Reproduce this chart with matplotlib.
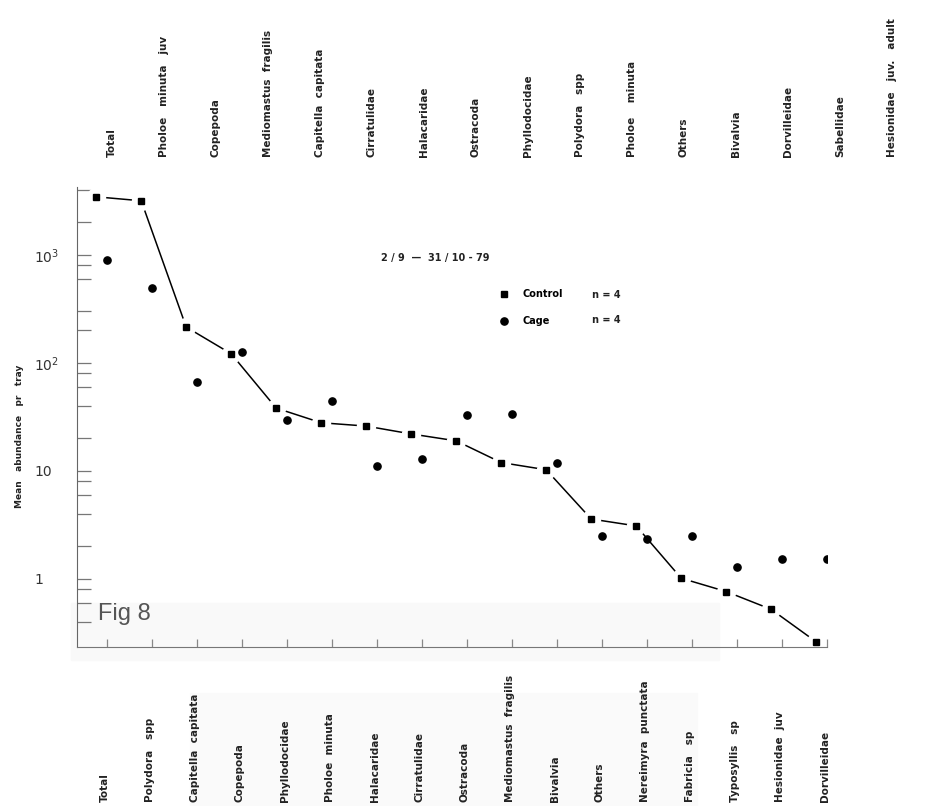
import matplotlib
matplotlib.use('Agg')
import matplotlib.pyplot as plt
import matplotlib.transforms as mtransforms
from matplotlib.lines import Line2D
from matplotlib.patches import Rectangle
import numpy as np

# taxa ranked by control abundance (bottom row)
control_taxa = ['Total', 'Polydora   spp', 'Capitella  capitata', 'Copepoda',
                'Phyllodocidae', 'Pholoe  minuta', 'Halacaridae', 'Cirratulidae',
                'Ostracoda', 'Mediomastus  fragilis', 'Bivalvia', 'Others',
                'Nereimyra  punctata', 'Fabricia   sp', 'Typosyllis   sp',
                'Hesionidae  juv', 'Dorvilleidae']
# taxa ranked by cage abundance (top row)
cage_taxa = ['Total', 'Pholoe   minuta   juv', 'Copepoda', 'Mediomastus  fragilis',
             'Capitella  capitata', 'Cirratulidae', 'Halacaridae', 'Ostracoda',
             'Phyllodocidae', 'Polydora   spp', 'Pholoe    minuta', 'Others',
             'Bivalvia', 'Dorvilleidae', 'Sabellidae', 'Hesionidae   juv.   adult']

control = [3440, 3160, 214, 121, 38, 27.8, 25.9, 21.9, 18.9, 11.9, 10.2,
           3.57, 3.08, 1.01, 0.76, 0.52, 0.26]
cage = [893, 489, 65.9, 126, 29.5, 44.2, 11.0, 12.8, 33.0, 33.5, 11.9,
        2.47, 2.33, 2.5, 1.28, 1.51, 1.51]

period = '2 / 9  \u2014  31 / 10 - 79'
series = ['Control', 'Cage']
n_trays = [4, 4]

fig = plt.figure(figsize=(9.41, 8.06), dpi=100)

# faint scan shading, behind everything
fig.patches.append(Rectangle((71/941, 1-660/806), 648/941, 57/806,
                             transform=fig.transFigure, color='#f9f9f9', zorder=-10))
fig.patches.append(Rectangle((190/941, 0), 507/941, 113/806,
                             transform=fig.transFigure, color='#fafafa', zorder=-10))

ax = fig.add_axes([77/941, 1-647/806, 750/941, 460/806])
ax.patch.set_alpha(0)

x = np.arange(len(control))
xc = x - 0.24

# line with small gaps round each square
ax.plot(xc, control, color='black', lw=1.1, zorder=2)
ax.plot(xc, control, ls='none', marker='o', ms=14, mfc='white', mec='none', zorder=2.1)
ax.plot(xc, control, ls='none', marker='s', ms=4.5, color='black', zorder=3)
ax.plot(x, cage, ls='none', marker='o', ms=5.2, color='black', zorder=3)

ax.set_yscale('log')
ax.set_ylim(0.233, 4240)
ax.set_xlim(-0.667, 16.0)

ax.set_yticks([1, 10, 100, 1000])
ax.set_yticklabels(['1', '10', '$10^2$', '$10^3$'])
ax.set_yticks([0.4, 0.6, 0.8, 2, 4, 6, 8, 20, 40, 60, 80,
               200, 300, 600, 800, 2000, 4000], minor=True)
ax.yaxis.set_minor_formatter(matplotlib.ticker.NullFormatter())
ax.tick_params(axis='y', which='both', direction='in', length=10, width=0.9,
               color='#777777', labelsize=10, pad=31, labelcolor='#333333')
for lab in ax.get_yticklabels():
    lab.set_horizontalalignment('left')
ax.set_xticks(x)
ax.set_xticklabels([])
ax.tick_params(axis='x', direction='in', length=6, width=0.9, color='#888888')

for s in ['top', 'right']:
    ax.spines[s].set_visible(False)
ax.spines['left'].set_color('#666666')
ax.spines['bottom'].set_color('#777777')

trans = mtransforms.blended_transform_factory(ax.transData, fig.transFigure)
lab_style = dict(rotation=90, fontsize=7.5, fontweight='bold', color='#222222',
                 ha='center', va='bottom')
for xi, name in zip(x, control_taxa):
    ax.text(xi - 0.05, 4/806, name, transform=trans, **lab_style)
top_pos = np.linspace(0.1, 17.44, len(cage_taxa))
for xi, name in zip(top_pos, cage_taxa):
    ax.text(xi, 1-157/806, name, transform=trans, **lab_style)

fig.text(20/941, 1-436/806, 'Mean   abundance   pr   tray', rotation=90,
         fontsize=6.5, fontweight='bold', ha='center', va='center', color='#222222')
fig.text(98/941, 1-614/806, 'Fig 8', fontsize=17, color='#555555',
         ha='left', va='center', fontfamily='Liberation Sans')
fig.text(381/941, 1-258/806, period, fontsize=7, fontweight='bold',
         ha='left', va='center', color='#222222')

handles = [Line2D([], [], ls='none', marker='s', ms=4.5, color='black'),
           Line2D([], [], ls='none', marker='o', ms=5.2, color='black')]
leg = fig.legend(handles, series, loc='upper left',
                 bbox_to_anchor=(499/941, 1-289/806), frameon=False,
                 handlelength=1.0, handletextpad=1.4, labelspacing=1.75, borderpad=0,
                 borderaxespad=0, prop=dict(size=7, weight='bold'))
for yy, n in zip([295, 320], n_trays):
    fig.text(592/941, 1-yy/806, f'n = {n}', fontsize=7, fontweight='bold',
             ha='left', va='center', color='#222222')

fig.savefig('out.png', dpi=100)
